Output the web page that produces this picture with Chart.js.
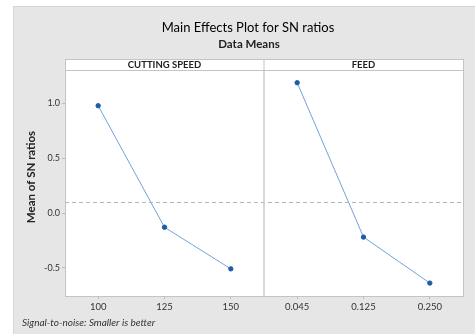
<!DOCTYPE html>
<html>
<head>
  <title>Main Effects Plot for SN ratios</title>
  <script src="https://cdn.jsdelivr.net/npm/chart.js"></script>
  <style>
    body { margin: 0; background: #fff; }
    #wrap { width: 475px; height: 334px; position: relative; }
  </style>
</head>
<body>
  <div id="wrap"><canvas id="mainEffects" width="475" height="334"></canvas></div>

  <script>
    // factor levels (shown on one shared category axis, 3 per panel)
    const speedLevels = ["100", "125", "150"];
    const feedLevels = ["0.045", "0.125", "0.250"];
    const panelNames = ["CUTTING SPEED", "FEED"];

    // mean SN ratio per level
    const speedMeans = [0.98, -0.13, -0.51];
    const feedMeans = [1.19, -0.22, -0.64];
    const overallMean = 0.105;

    const yTickValues = [-0.5, 0.0, 0.5, 1.0];

    const FONT = "Lato, 'Noto Sans', sans-serif";
    const lineColor = "#6fa3dc";
    const dotColor = "#1f5ba8";

    const labels = speedLevels.concat(feedLevels);
    const speedData = speedMeans.concat(feedLevels.map(() => null));
    const feedData = speedLevels.map(() => null).concat(feedMeans);

    const STRIP = 11;

    const decorations = {
      id: "decorations",
      beforeDraw(chart) {
        const ctx = chart.ctx;
        ctx.save();
        ctx.fillStyle = "#fff";
        ctx.fillRect(0, 0, chart.width, chart.height);
        ctx.fillStyle = "#e6e6e6";
        ctx.fillRect(13, 6, chart.width - 13, chart.height - 6);
        ctx.strokeStyle = "#d6d6d6";
        ctx.lineWidth = 1;
        ctx.strokeRect(13.5, 6.5, chart.width, chart.height);
        const a = chart.chartArea;
        ctx.fillStyle = "#fff";
        ctx.fillRect(a.left, a.top, a.right - a.left, a.bottom - a.top);
        ctx.restore();
      },
      afterDatasetsDraw(chart) {
        const ctx = chart.ctx;
        const a = chart.chartArea;
        const x = chart.scales.x;
        const y = chart.scales.y;
        ctx.save();

        // overall mean reference line
        const ym = Math.round(y.getPixelForValue(overallMean)) + 0.5;
        ctx.strokeStyle = "#b4b4b4";
        ctx.setLineDash([4, 3]);
        ctx.beginPath();
        ctx.moveTo(a.left, ym);
        ctx.lineTo(a.right, ym);
        ctx.stroke();
        ctx.setLineDash([]);

        // panel divider
        const mid = (x.getPixelForValue(2) + x.getPixelForValue(3)) / 2;
        ctx.strokeStyle = "#cbcbcb";
        ctx.lineWidth = 1.5;
        ctx.beginPath();
        ctx.moveTo(mid, a.top - STRIP);
        ctx.lineTo(mid, a.bottom);
        ctx.stroke();

        // plot frame
        ctx.lineWidth = 1;
        ctx.strokeStyle = "#c4c4c4";
        ctx.strokeRect(a.left + 0.5, a.top + 0.5, a.right - a.left, a.bottom - a.top);

        // strip headers
        const stripTop = a.top - STRIP;
        ctx.fillStyle = "#fff";
        ctx.fillRect(a.left, stripTop, a.right - a.left, STRIP);
        ctx.strokeRect(a.left + 0.5, stripTop + 0.5, a.right - a.left, STRIP);
        ctx.beginPath();
        ctx.moveTo(mid, stripTop);
        ctx.lineTo(mid, a.top);
        ctx.stroke();
        ctx.fillStyle = "#222";
        ctx.font = "bold 9.5px " + FONT;
        ctx.textAlign = "center";
        ctx.textBaseline = "middle";
        ctx.fillText(panelNames[0], (a.left + mid) / 2, stripTop + 6);
        ctx.fillText(panelNames[1], (mid + a.right) / 2, stripTop + 6);

        // titles
        ctx.fillStyle = "#000";
        ctx.font = "13px " + FONT;
        ctx.fillText("Main Effects Plot for SN ratios", 248, 28);
        ctx.font = "bold 11.5px " + FONT;
        ctx.fillStyle = "#222";
        ctx.fillText("Data Means", 249, 44);

        // footnote
        ctx.font = "italic 10px " + FONT;
        ctx.textAlign = "left";
        ctx.fillStyle = "#333";
        ctx.fillText("Signal-to-noise: Smaller is better", 22, 323);

        // y axis title
        ctx.translate(31, 177);
        ctx.rotate(-Math.PI / 2);
        ctx.textAlign = "center";
        ctx.font = "bold 11.5px " + FONT;
        ctx.fillStyle = "#222";
        ctx.fillText("Mean of SN ratios", 0, 0);
        ctx.restore();
      }
    };

    new Chart(document.getElementById("mainEffects"), {
      type: "line",
      data: {
        labels: labels,
        datasets: [
          { label: panelNames[0], data: speedData },
          { label: panelNames[1], data: feedData }
        ].map(d => Object.assign(d, {
          borderColor: lineColor,
          borderWidth: 1,
          pointBackgroundColor: dotColor,
          pointBorderColor: dotColor,
          pointRadius: 2.2,
          spanGaps: false,
          tension: 0
        }))
      },
      options: {
        responsive: false,
        animation: false,
        layout: { padding: { left: 13, right: 12, top: 70, bottom: 18 } },
        plugins: {
          legend: { display: false },
          tooltip: { enabled: false },
          title: { display: false }
        },
        scales: {
          x: {
            type: "category",
            offset: true,
            afterFit: s => { s.height = 20; },
            grid: { display: true, drawOnChartArea: false, tickLength: 3, color: "#bbb" },
            border: { display: false },
            ticks: { color: "#333", font: { family: FONT, size: 9.5 }, padding: 2, maxRotation: 0 }
          },
          y: {
            min: -0.758,
            max: 1.306,
            afterFit: s => { s.width = 52; },
            afterBuildTicks: s => { s.ticks = yTickValues.map(v => ({ value: v })); },
            grid: { display: true, drawOnChartArea: false, tickLength: 3, color: "#bbb" },
            border: { display: false },
            ticks: {
              color: "#333",
              font: { family: FONT, size: 9 },
              padding: 2,
              callback: v => v.toFixed(1)
            }
          }
        }
      },
      plugins: [decorations]
    });
  </script>
</body>
</html>
